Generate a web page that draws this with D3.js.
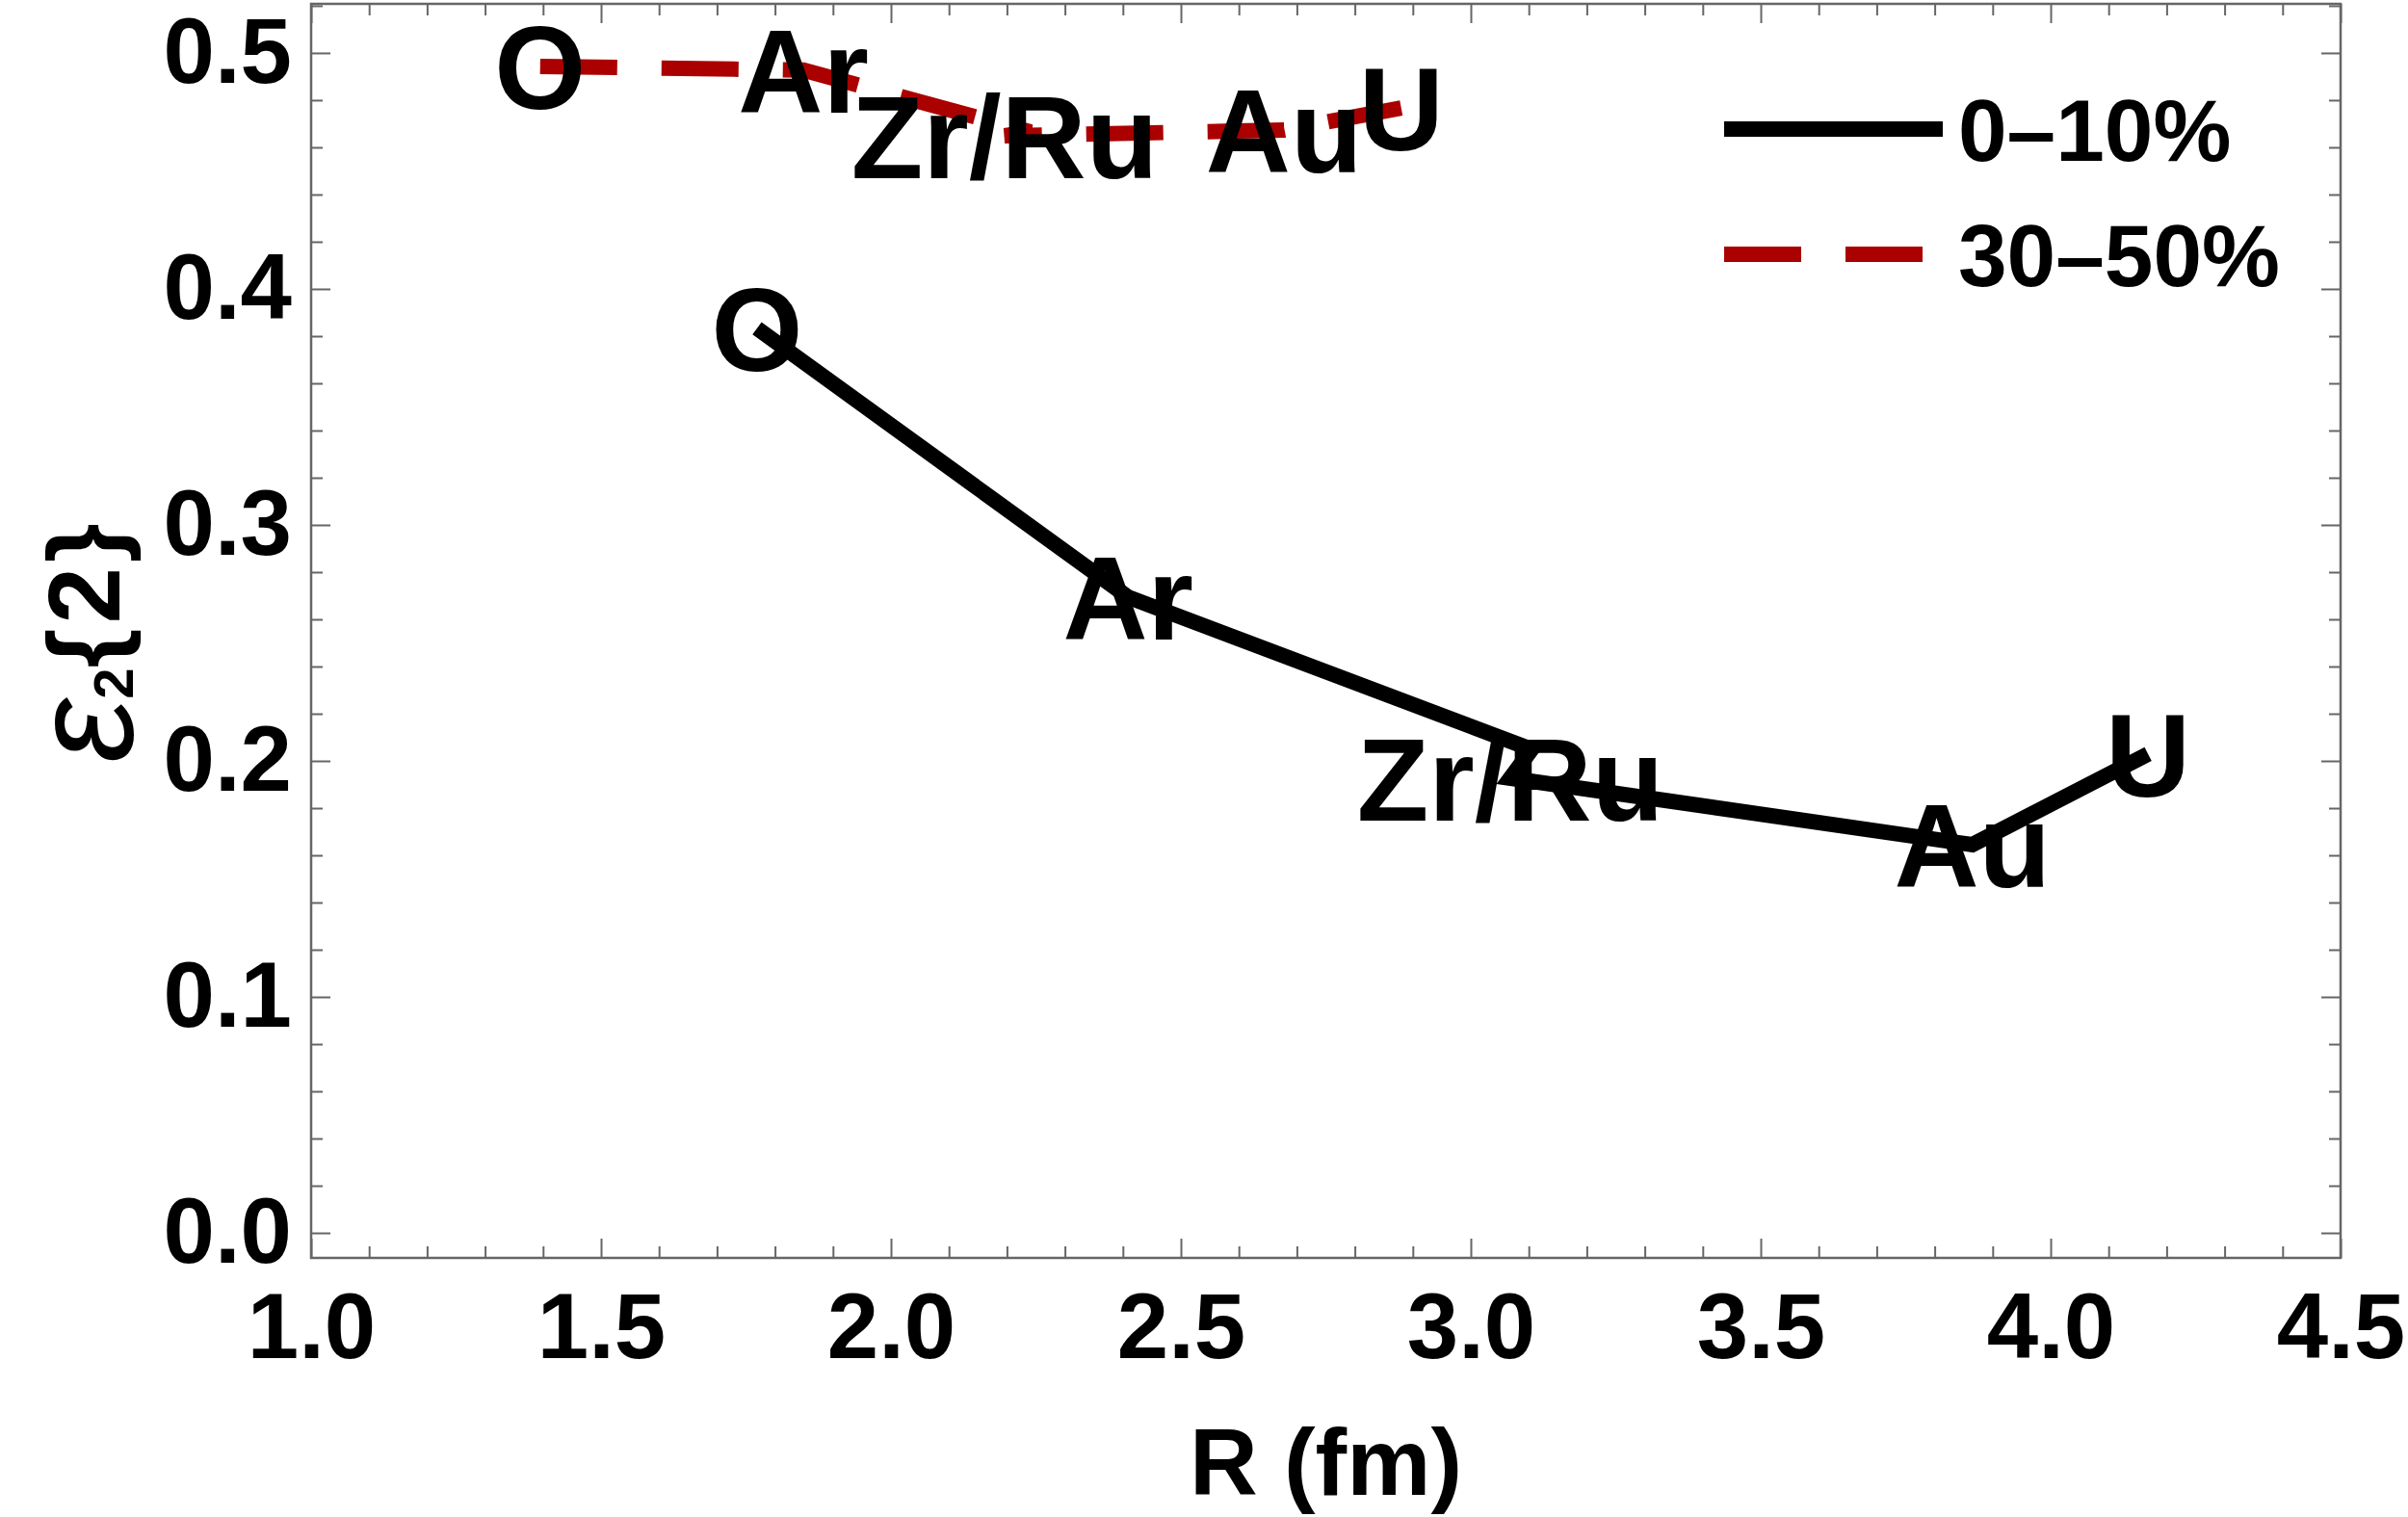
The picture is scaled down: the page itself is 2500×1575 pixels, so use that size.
<!DOCTYPE html>
<html>
<head>
<meta charset="utf-8">
<script src="https://cdn.jsdelivr.net/npm/d3@7"></script>
<style>
  body { margin: 0; background: #fff; }
  text { font-family: "Liberation Sans", Arial, sans-serif; font-weight: bold; }
  .frame line, .frame path { stroke: #666; }
</style>
</head>
<body>
<svg id="chart" width="2500" height="1575"></svg>
<script>
// nuclei, Zr and Ru share one label
var nuclei = ["O", "Ar", "Zr", "Ru", "Au", "U"];
var pointLabels = ["O", "Ar", "", "Zr/Ru", "Au", "U"];

// 0-10% centrality
var R_central = [1.769, 2.409, 3.105, 3.068, 3.865, 4.168];
var eps_central = [0.3833, 0.2694, 0.2049, 0.1927, 0.1645, 0.2029];

// 30-50% centrality
var R_mid = [1.395, 1.849, 2.241, 2.196, 2.678, 2.880];
var eps_mid = [0.4943, 0.4927, 0.4665, 0.4649, 0.4673, 0.4767];

var seriesNames = ["0\u201310%", "30\u201350%"];

var xMajor = [1.0, 1.5, 2.0, 2.5, 3.0, 3.5, 4.0, 4.5];
var yMajor = [0.0, 0.1, 0.2, 0.3, 0.4, 0.5];

var svg = d3.select("#chart"),
    width = +svg.attr("width"),
    height = +svg.attr("height");

svg.append("rect").attr("width", width).attr("height", height).attr("fill", "#fff");

// plot box (window.top is reserved, so no "top" here)
var plotL = 323, plotR = 2430, plotT = 4, plotB = 1306;

var x = d3.scaleLinear().domain([1, 4.5]).range([plotL, plotR]);
var y = d3.scaleLinear().domain([-0.0106, 0.5208]).range([plotB, plotT]);

var xMinor = d3.range(10, 46).map(function (d) { return d / 10; })
    .filter(function (d) { return xMajor.indexOf(d) < 0; });
var yMinor = d3.range(0, 27).map(function (d) { return d / 50; })
    .filter(function (d) { return Math.abs(d * 10 - Math.round(d * 10)) > 1e-6; });

var fmt = d3.format(".1f");

// frame with inward ticks on all four sides
function frameAxis(axis, tx, ty, vals, size, labels) {
    var g = svg.append("g")
        .attr("class", "frame")
        .attr("transform", "translate(" + tx + "," + ty + ")")
        .call(axis.tickValues(vals).tickSize(size).tickFormat(labels ? fmt : ""));
    g.select(".domain").remove();
    g.selectAll("line").attr("stroke-width", 2);
    return g;
}

frameAxis(d3.axisBottom(x).tickPadding(36), 0, plotB, xMajor, -20, true)
    .selectAll("text").attr("font-size", 96).attr("fill", "#000");
frameAxis(d3.axisBottom(x), 0, plotB, xMinor, -12, false);
frameAxis(d3.axisTop(x), 0, plotT, xMajor, -20, false);
frameAxis(d3.axisTop(x), 0, plotT, xMinor, -12, false);

frameAxis(d3.axisLeft(y).tickPadding(20), plotL, 0, yMajor, -20, true)
    .selectAll("text").attr("font-size", 96).attr("fill", "#000");
frameAxis(d3.axisLeft(y), plotL, 0, yMinor, -12, false);
frameAxis(d3.axisRight(y), plotR, 0, yMajor, -20, false);
frameAxis(d3.axisRight(y), plotR, 0, yMinor, -12, false);

svg.append("rect")
    .attr("x", plotL).attr("y", plotT)
    .attr("width", plotR - plotL).attr("height", plotB - plotT)
    .attr("fill", "none").attr("stroke", "#666").attr("stroke-width", 2.5);

// the two curves
var line = d3.line()
    .x(function (d) { return x(d.r); })
    .y(function (d) { return y(d.e); });

var central = nuclei.map(function (n, i) { return { r: R_central[i], e: eps_central[i], label: pointLabels[i] }; });
var mid = nuclei.map(function (n, i) { return { r: R_mid[i], e: eps_mid[i], label: pointLabels[i] }; });

svg.append("path")
    .datum(central)
    .attr("d", line)
    .attr("fill", "none")
    .attr("stroke", "#000")
    .attr("stroke-width", 16)
    .attr("stroke-linejoin", "miter");

svg.append("path")
    .datum(mid)
    .attr("d", line)
    .attr("fill", "none")
    .attr("stroke", "#aa0000")
    .attr("stroke-width", 16)
    .attr("stroke-dasharray", "80 46")
    .attr("stroke-linejoin", "miter");

// nucleus labels sit on top of the points
[central, mid].forEach(function (pts) {
    svg.append("g").selectAll("text")
        .data(pts.filter(function (d) { return d.label; }))
        .enter().append("text")
        .attr("x", function (d) { return x(d.r); })
        .attr("y", function (d) { return y(d.e); })
        .attr("dy", "0.36em")
        .attr("text-anchor", "middle")
        .attr("font-size", 122)
        .text(function (d) { return d.label; });
});

// legend
var legend = svg.append("g").attr("transform", "translate(1790,134)");
legend.append("line")
    .attr("x1", 0).attr("x2", 227).attr("y1", 0).attr("y2", 0)
    .attr("stroke", "#000").attr("stroke-width", 16);
legend.append("line")
    .attr("x1", 0).attr("x2", 207).attr("y1", 130).attr("y2", 130)
    .attr("stroke", "#aa0000").attr("stroke-width", 16)
    .attr("stroke-dasharray", "80 46");
legend.selectAll("text.leg")
    .data(seriesNames)
    .enter().append("text")
    .attr("class", "leg")
    .attr("x", 243)
    .attr("y", function (d, i) { return i * 130; })
    .attr("dy", "0.36em")
    .attr("font-size", 91)
    .text(function (d) { return d; });

// axis titles
svg.append("text")
    .attr("x", (plotL + plotR) / 2)
    .attr("y", 1552)
    .attr("text-anchor", "middle")
    .attr("font-size", 98)
    .text("R (fm)");

var yt = svg.append("text")
    .attr("transform", "translate(124,665) rotate(-90)")
    .attr("text-anchor", "middle")
    .attr("font-size", 105);
yt.append("tspan")
    .attr("font-style", "italic")
    .attr("font-weight", "normal")
    .attr("font-size", 150)
    .attr("dy", 14)
    .text("\u03b5");
yt.append("tspan")
    .attr("font-size", 58)
    .text("2");
yt.append("tspan")
    .attr("dy", -14)
    .attr("letter-spacing", 5)
    .text("{2}");
</script>
</body>
</html>
